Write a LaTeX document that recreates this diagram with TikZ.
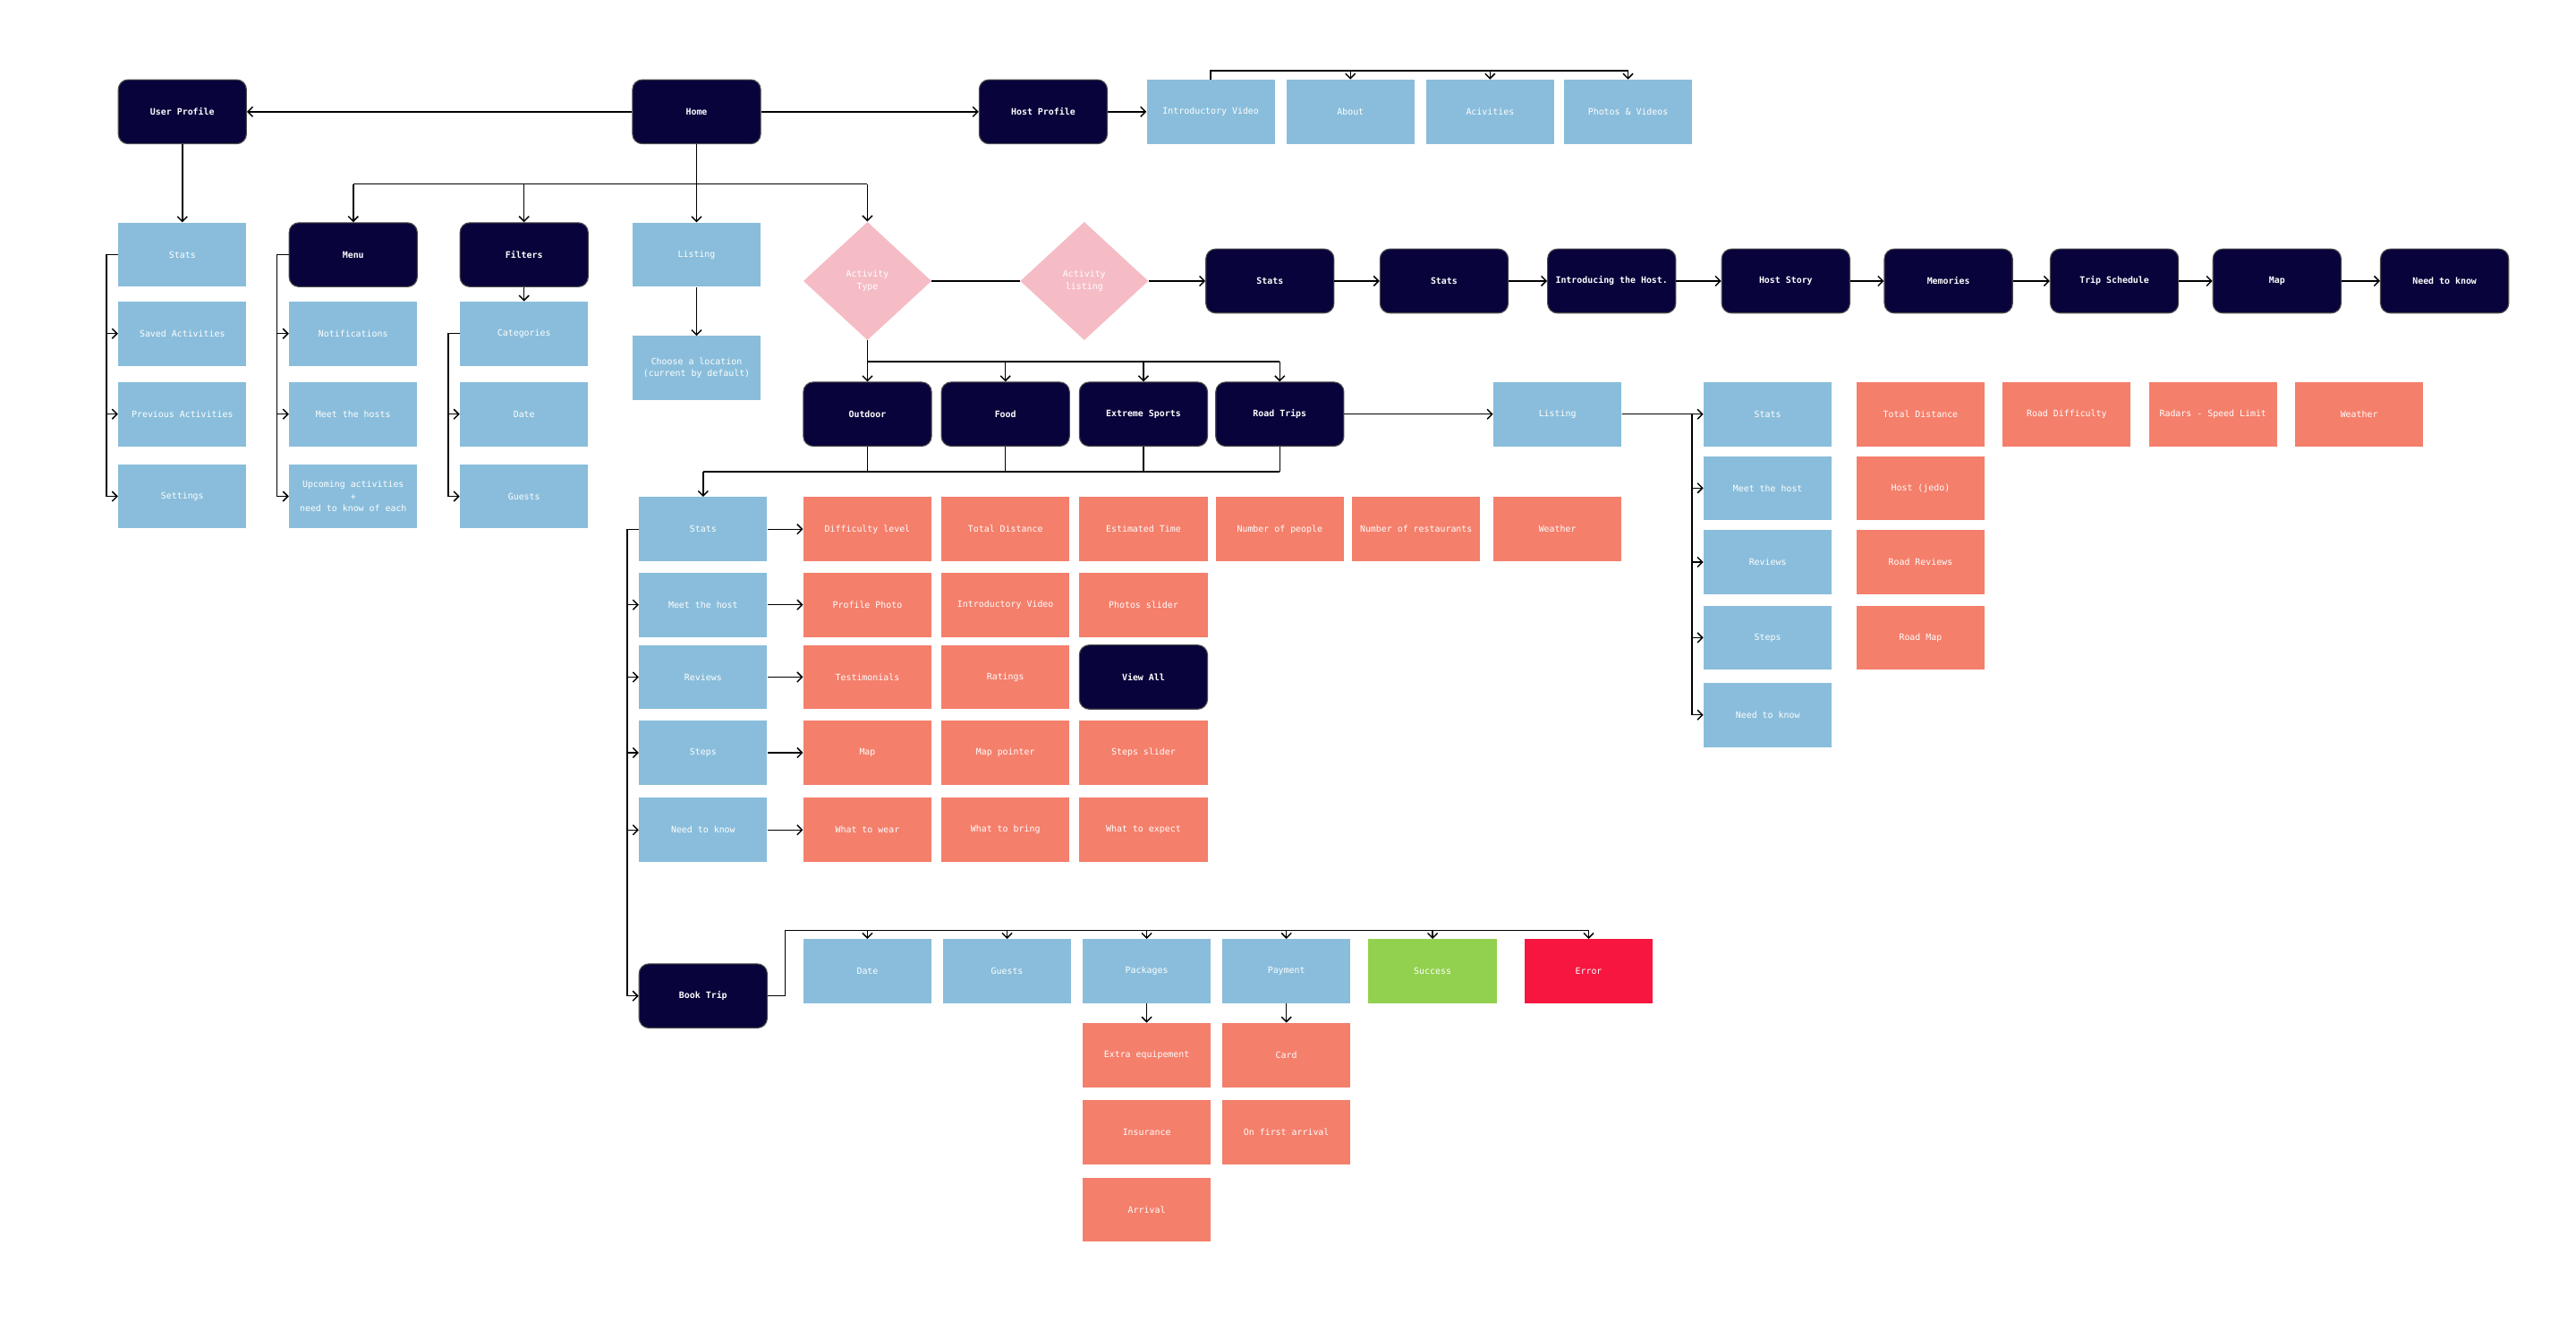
\documentclass[tikz,border=0pt]{standalone}
\usepackage{fontspec}
\setmonofont{DejaVu Sans Mono}
\usetikzlibrary{arrows.meta,positioning,calc,shapes.geometric}
\definecolor{navyC}  {HTML}{08033A}
\definecolor{blueC}  {HTML}{89BDDB}
\definecolor{salmonC}{HTML}{F47F6B}
\definecolor{pinkC}  {HTML}{F5BCC6}
\definecolor{greenC} {HTML}{92D14F}
\definecolor{errorC} {HTML}{F6163F}
\tikzset{
  >={Straight Barb[length=3pt,width=6pt]},
  flow/.style={line width=0.8pt,black},
  baseBox/.style={minimum width=78pt,minimum height=39pt,inner sep=1pt,align=center,
    text=white,font=\ttfamily\fontsize{5.4}{7.5}\selectfont},
  darkBox/.style={baseBox,fill=navyC,draw=black!70,line width=0.6pt,rounded corners=6pt,
    font=\ttfamily\bfseries\fontsize{5.4}{7.5}\selectfont},
  blueBox/.style={baseBox,fill=blueC},
  redBox/.style={baseBox,fill=salmonC},
  okBox/.style={baseBox,fill=greenC},
  failBox/.style={baseBox,fill=errorC},
  choiceBox/.style={diamond,fill=pinkC,minimum width=78pt,minimum height=72pt,inner sep=0pt,
    align=center,text=white,font=\ttfamily\fontsize{5.4}{7.5}\selectfont},
}

\begin{document}
\begin{tikzpicture}[x=1pt,y=-1pt]
\fill[white] (0,0) rectangle (1568,804);
\useasboundingbox (0,0) rectangle (1568,804);

\node[darkBox] (userProfile) at (111,68) {User Profile};
\node[darkBox] (home) at (424,68) {Home};
\node[darkBox] (hostProfile) at (635,68) {Host Profile};
\node[blueBox] (hpVideo) at (737,68) {Introductory Video};
\node[blueBox] (hpAbout) at (822,68) {About};
\node[blueBox] (hpActs) at (907,68) {Acivities};
\node[blueBox] (hpPhotos) at (991,68) {Photos \& Videos};

\node[blueBox] (upStats) at (111,155) {Stats};
\node[blueBox] (upSaved) at (111,203) {Saved Activities};
\node[blueBox] (upPrev) at (111,252) {Previous Activities};
\node[blueBox] (upSettings) at (111,302) {Settings};
\node[darkBox] (menu) at (215,155) {Menu};
\node[blueBox] (mnNotif) at (215,203) {Notifications};
\node[blueBox] (mnHosts) at (215,252) {Meet the hosts};
\node[blueBox] (mnUpcoming) at (215,302) {Upcoming activities\\+\\need to know of each};
\node[darkBox] (filters) at (319,155) {Filters};
\node[blueBox] (ftCats) at (319,203) {Categories};
\node[blueBox] (ftDate) at (319,252) {Date};
\node[blueBox] (ftGuests) at (319,302) {Guests};
\node[blueBox] (listing) at (424,155) {Listing};
\node[blueBox] (location) at (424,224) {Choose a location\\(current by default)};

\node[choiceBox] (actType) at (528,171) {Activity\\Type};
\node[choiceBox] (actListing) at (660,171) {Activity\\listing};
\node[darkBox] (alStats) at (773,171) {Stats};
\node[darkBox] (alStats2) at (879,171) {Stats};
\node[darkBox] (alIntro) at (981,171) {Introducing the Host.};
\node[darkBox] (alStory) at (1087,171) {Host Story};
\node[darkBox] (alMemories) at (1186,171) {Memories};
\node[darkBox] (alSchedule) at (1287,171) {Trip Schedule};
\node[darkBox] (alMap) at (1386,171) {Map};
\node[darkBox] (alKnow) at (1488,171) {Need to know};

\node[darkBox] (outdoor) at (528,252) {Outdoor};
\node[darkBox] (food) at (612,252) {Food};
\node[darkBox] (extreme) at (696,252) {Extreme Sports};
\node[darkBox] (roadTrips) at (779,252) {Road Trips};
\node[blueBox] (rtListing) at (948,252) {Listing};
\node[blueBox] (rtStats) at (1076,252) {Stats};
\node[blueBox] (rtHost) at (1076,297) {Meet the host};
\node[blueBox] (rtReviews) at (1076,342) {Reviews};
\node[blueBox] (rtSteps) at (1076,388) {Steps};
\node[blueBox] (rtKnow) at (1076,435) {Need to know};
\node[redBox] (rtDistance) at (1169,252) {Total Distance};
\node[redBox] (rtDifficulty) at (1258,252) {Road Difficulty};
\node[redBox] (rtRadars) at (1347,252) {Radars - Speed Limit};
\node[redBox] (rtWeather) at (1436,252) {Weather};
\node[redBox] (rtJedo) at (1169,297) {Host (jedo)};
\node[redBox] (rtRoadReviews) at (1169,342) {Road Reviews};
\node[redBox] (rtRoadMap) at (1169,388) {Road Map};

\node[blueBox] (odStats) at (428,322) {Stats};
\node[blueBox] (odHost) at (428,368) {Meet the host};
\node[blueBox] (odReviews) at (428,412) {Reviews};
\node[blueBox] (odSteps) at (428,458) {Steps};
\node[blueBox] (odKnow) at (428,505) {Need to know};
\node[darkBox] (bookTrip) at (428,606) {Book Trip};
\node[redBox] (odDiff) at (528,322) {Difficulty level};
\node[redBox] (odDistance) at (612,322) {Total Distance};
\node[redBox] (odTime) at (696,322) {Estimated Time};
\node[redBox] (odPeople) at (779,322) {Number of people};
\node[redBox] (odRestaurants) at (862,322) {Number of restaurants};
\node[redBox] (odWeather) at (948,322) {Weather};
\node[redBox] (odPhoto) at (528,368) {Profile Photo};
\node[redBox] (odVideo) at (612,368) {Introductory Video};
\node[redBox] (odSlider) at (696,368) {Photos slider};
\node[redBox] (odTestimonials) at (528,412) {Testimonials};
\node[redBox] (odRatings) at (612,412) {Ratings};
\node[darkBox] (odViewAll) at (696,412) {View All};
\node[redBox] (odMap) at (528,458) {Map};
\node[redBox] (odPointer) at (612,458) {Map pointer};
\node[redBox] (odStepsSlider) at (696,458) {Steps slider};
\node[redBox] (odWear) at (528,505) {What to wear};
\node[redBox] (odBring) at (612,505) {What to bring};
\node[redBox] (odExpect) at (696,505) {What to expect};

\node[blueBox] (bkDate) at (528,591) {Date};
\node[blueBox] (bkGuests) at (613,591) {Guests};
\node[blueBox] (bkPackages) at (698,591) {Packages};
\node[blueBox] (bkPayment) at (783,591) {Payment};
\node[okBox] (bkSuccess) at (872,591) {Success};
\node[failBox] (bkError) at (967,591) {Error};
\node[redBox] (bkExtra) at (698,642) {Extra equipement};
\node[redBox] (bkCard) at (783,642) {Card};
\node[redBox] (bkInsurance) at (698,689) {Insurance};
\node[redBox] (bkFirst) at (783,689) {On first arrival};
\node[redBox] (bkArrival) at (698,736) {Arrival};

\coordinate (hpBus) at (737,43);
\coordinate (homeBus) at (424,112);
\coordinate (typeBus) at (528,220);
\coordinate (catBus) at (428,287);
\coordinate (rtRail) at (1030,252);
\coordinate (bookBus) at (478,566);

\draw[flow,->] (home) -- (userProfile);
\draw[flow,->] (home) -- (hostProfile);
\draw[flow,->] (hostProfile) -- (hpVideo);
\draw[flow] (hpVideo.north) -- (hpBus) -- (hpPhotos.north |- hpBus);
\foreach \n in {hpAbout,hpActs,hpPhotos}
  \draw[flow,->] (\n.north |- hpBus) -- (\n.north);

\draw[flow,->] (userProfile) -- (upStats);
\foreach \n in {upSaved,upPrev,upSettings}
  \draw[flow,->] (upStats.west) -- ++(-7,0) |- (\n.west);
\draw[flow,->] (home) -- (listing);
\draw[flow] (menu.north |- homeBus) -- (actType.north |- homeBus);
\foreach \n in {menu,filters,actType}
  \draw[flow,->] (\n.north |- homeBus) -- (\n.north);
\foreach \n in {mnNotif,mnHosts,mnUpcoming}
  \draw[flow,->] (menu.west) -- ++(-7,0) |- (\n.west);
\draw[flow,->] (filters) -- (ftCats);
\foreach \n in {ftDate,ftGuests}
  \draw[flow,->] (ftCats.west) -- ++(-7,0) |- (\n.west);
\draw[flow,->] (listing) -- (location);

\draw[flow] (actType) -- (actListing);
\foreach \a/\b in {actListing/alStats,alStats/alStats2,alStats2/alIntro,alIntro/alStory,
  alStory/alMemories,alMemories/alSchedule,alSchedule/alMap,alMap/alKnow}
  \draw[flow,->] (\a) -- (\b);

\draw[flow] (actType.south) -- (typeBus) -- (roadTrips.north |- typeBus);
\foreach \n in {outdoor,food,extreme,roadTrips}
  \draw[flow,->] (\n.north |- typeBus) -- (\n.north);
\foreach \n in {outdoor,food,extreme,roadTrips}
  \draw[flow] (\n.south) -- (\n.south |- catBus);
\draw[flow] (catBus) -- (roadTrips.south |- catBus);
\draw[flow,->] (catBus) -- (odStats.north);

\draw[flow,->] (roadTrips) -- (rtListing);
\foreach \n in {rtStats,rtHost,rtReviews,rtSteps,rtKnow}
  \draw[flow,->] (rtListing.east) -- (rtRail) |- (\n.west);

\foreach \n in {odHost,odReviews,odSteps,odKnow,bookTrip}
  \draw[flow,->] (odStats.west) -- ++(-7,0) |- (\n.west);
\foreach \a/\b in {odStats/odDiff,odHost/odPhoto,odReviews/odTestimonials,odSteps/odMap,odKnow/odWear}
  \draw[flow,->] (\a) -- (\b);

\draw[flow] (bookTrip.east) -| (bookBus) -- (bkError.north |- bookBus);
\foreach \n in {bkDate,bkGuests,bkPackages,bkPayment,bkSuccess,bkError}
  \draw[flow,->] (\n.north |- bookBus) -- (\n.north);
\draw[flow,->] (bkPackages) -- (bkExtra);
\draw[flow,->] (bkPayment) -- (bkCard);
\end{tikzpicture}
\end{document}
